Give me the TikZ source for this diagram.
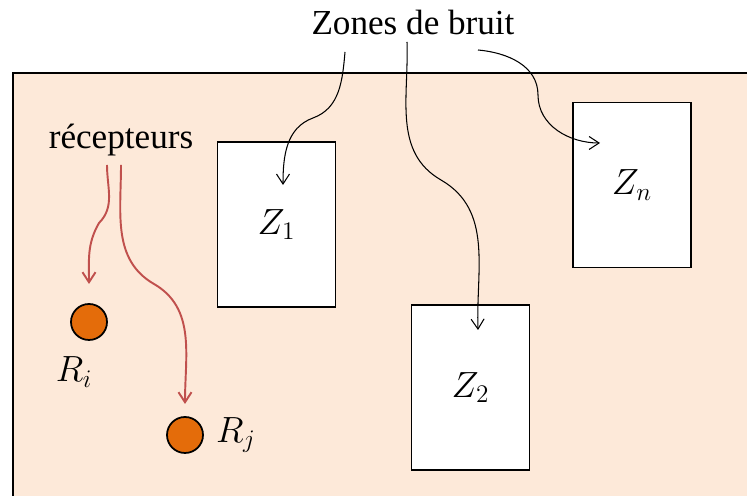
\documentclass[tikz,border=0pt]{standalone}
\usepackage{fontspec}
\setmainfont{Liberation Serif}
\usetikzlibrary{arrows.meta,positioning}
\definecolor{noisebg}{RGB}{253,233,217}
\definecolor{recred}{RGB}{192,80,77}
\definecolor{recorange}{RGB}{228,108,10}

\begin{document}
\begin{tikzpicture}[x=0.02cm,y=0.02cm,>={Straight Barb[length=2mm,width=2.6mm]},
  every node/.style={font=\fontsize{20}{24}\selectfont},
  zone/.style={draw,line width=0.7pt,fill=white,minimum width=2.36cm,minimum height=3.3cm,inner sep=0pt},
  recv/.style={circle,draw,line width=1pt,fill=recorange,minimum size=0.72cm,inner sep=0pt}]
\useasboundingbox (0,0) rectangle (747,496);
\clip (0,0) rectangle (747,496);
\draw[line width=1.3pt,fill=noisebg] (13,-20) rectangle (780,423);
% zones de bruit
\node[zone] (z1) at (276.5,271.5) {$Z_1$};
\node[zone] (z2) at (470.5,108.5) {$Z_2$};
\node[zone] (zn) at (632,311) {$Z_n$};
\node (zones) at (413,474) {Zones de bruit};
% recepteurs
\node (rec) at (121,356) {récepteurs};
\node[recv] (ri) at (89,174) {};
\node[recv] (rj) at (185,61) {};
\node[below=0.2cm of ri,xshift=-0.3cm] (lri) {$R_i$};
\node[right=0.12cm of rj] (lrj) {$R_j$};
% arrows
\coordinate (a1) at (345,444);
\coordinate (m1) at (313,378);
\coordinate (e1) at (283,311);
\coordinate (a2) at (407,454);
\coordinate (m2) at (441,316);
\coordinate (e2) at (478,166);
\coordinate (a3) at (478,446);
\coordinate (m3) at (538,401);
\coordinate (e3) at (600,353);
\draw[->,line width=0.6pt] (a1) to[out=-95,in=20] (m1) to[out=200,in=90] (e1);
\draw[->,line width=0.6pt] (a2) to[out=-88,in=150] (m2) to[out=-30,in=92] (e2);
\draw[->,line width=0.6pt] (a3) to[out=-5,in=90] (m3) to[out=-90,in=180] (e3);
\coordinate (b1) at (107,331);
\coordinate (mb1) at (99,273);
\coordinate (eb1) at (89,212);
\coordinate (b2) at (121,331);
\coordinate (mb2) at (154,212);
\coordinate (eb2) at (185,92);
\draw[->,recred,line width=1.1pt] (b1) to[out=-90,in=45] (mb1) to[out=-120,in=90] (eb1);
\draw[->,recred,line width=1.1pt] (b2) to[out=-90,in=150] (mb2) to[out=-30,in=90] (eb2);
\end{tikzpicture}
\end{document}
